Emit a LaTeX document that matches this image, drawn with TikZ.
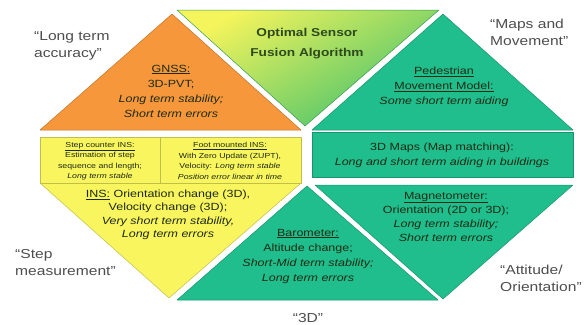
\documentclass[tikz,border=0pt]{standalone}
\usepackage{fontspec}
\setmainfont{Liberation Sans}[FakeStretch=1.2]
\usepackage{xcolor}
\definecolor{cOrange}{HTML}{F5973A}
\definecolor{cYellow}{HTML}{F8F55E}
\definecolor{cGreen}{HTML}{1FBE8C}
\definecolor{cFusionTop}{HTML}{F4F45C}
\definecolor{cFusionBot}{HTML}{45C26C}
\definecolor{cFusionInk}{HTML}{2E4A1C}
\definecolor{cInk}{HTML}{1E2A14}
\definecolor{cLabel}{HTML}{4D4D4D}
\tikzset{
  zone/.style={
    fill=#1, draw=#1!78!black, line width=0.5pt, line join=round,
  },
  zonetext/.style={
    font=\fontsize{10.4}{15}\selectfont, text=cInk,
    align=center, inner sep=0pt,
  },
  bandtext/.style={
    font=\fontsize{7.3}{10.5}\selectfont, text=cInk,
    align=center, inner sep=0pt,
  },
  outlabel/.style={
    font=\fontsize{13}{17}\selectfont, text=cLabel,
    align=left, anchor=west, inner sep=0pt,
  },
}

\begin{document}
\begin{tikzpicture}[x=1pt, y=-1pt]
  \useasboundingbox (0,0) rectangle (586,324);

  % Upper row
  \draw[zone=cOrange] (172,14) -- (301,130) -- (40,130) -- cycle;
  \shadedraw[top color=cFusionTop, bottom color=cFusionBot, shading angle=30,
        draw=cFusionBot!80!black, line width=0.5pt, line join=round]
    (177,10) -- (439,10) -- (305,126) -- cycle;
  \draw[zone=cGreen] (443,14) -- (573,130) -- (312,130) -- cycle;

  \node[zonetext] (gnss) at (171,91) {\underline{GNSS:}\\3D-PVT;\\
    \textit{Long term stability;}\\\textit{Short term errors}};
  \node[zonetext, font=\fontsize{11.4}{20}\selectfont\bfseries, text=cFusionInk]
    (fusion) at (307,44) {Optimal Sensor\\Fusion Algorithm};
  \node[zonetext] (pedestrian) at (444,87) {\underline{Pedestrian}\\
    \underline{Movement Model:}\\\textit{Some short term aiding}};

  % Lower row
  \draw[zone=cYellow] (40,183) -- (301,183) -- (169,298) -- cycle;
  \draw[zone=cGreen] (307,186) -- (438,300) -- (177,300) -- cycle;
  \draw[zone=cGreen] (315,185) -- (573,185) -- (443,299) -- cycle;

  \node[zonetext, font=\fontsize{10.4}{13.5}\selectfont] (ins) at (168,215)
    {\underline{INS:} Orientation change (3D),\\Velocity change (3D);\\
    \textit{Very short term stability,}\\\textit{Long term errors}};
  \node[zonetext] (baro) at (308,256) {\underline{Barometer:}\\Altitude change;\\
    \textit{Short-Mid term stability;}\\\textit{Long term errors}};
  \node[zonetext, font=\fontsize{10.4}{14.3}\selectfont] (magneto) at (446,217)
    {\underline{Magnetometer:}\\Orientation (2D or 3D);\\
    \textit{Long term stability;}\\\textit{Short term errors}};

  % Middle bands
  \draw[zone=cYellow] (40,137) rectangle (301,183);
  \draw[draw=cYellow!78!black, line width=0.5pt] (160,137) -- (160,183);
  \draw[zone=cGreen] (312,132) rectangle (573,177);

  \node[bandtext] (stepcount) at (100,161) {\underline{Step counter INS:}\\
    Estimation of step\\sequence and length;\\\textit{Long term stable}};
  \node[bandtext] (footins) at (230,161) {\underline{Foot mounted INS:}\\
    With Zero Update (ZUPT),\\Velocity: \textit{Long term stable}\\
    \textit{Position error linear in time}};
  \node[zonetext] (maps) at (442,155) {3D Maps (Map matching):\\
    \textit{Long and short term aiding in buildings}};

  % Outer labels
  \node[outlabel] (accuracy) at (34,46) {“Long term\\accuracy”};
  \node[outlabel] (movement) at (490,32) {“Maps and\\Movement”};
  \node[outlabel] (stepmeas) at (15,263) {“Step\\measurement”};
  \node[outlabel, anchor=center] (threed) at (308,318) {“3D”};
  \node[outlabel] (attitude) at (500,278) {“Attitude/\\Orientation”};

\end{tikzpicture}
\end{document}
